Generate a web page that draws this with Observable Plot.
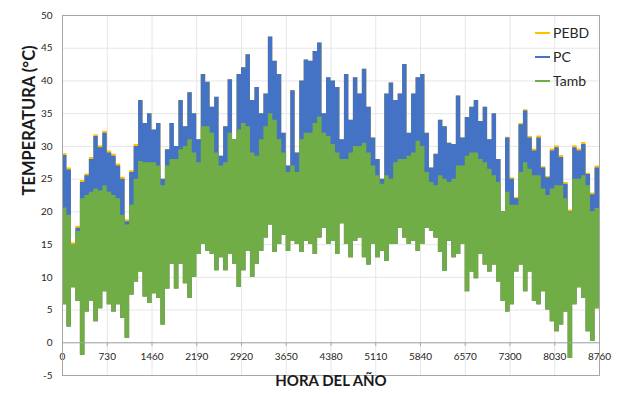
<!DOCTYPE html>
<html><head><meta charset="utf-8">
<script src="https://cdn.jsdelivr.net/npm/d3@7"></script>
<script src="https://cdn.jsdelivr.net/npm/@observablehq/plot@0.6"></script>
<style>
body{margin:0;background:#fff;}
#wrap{position:relative;width:618px;height:394px;font-family:Lato,"Open Sans",sans-serif;}
#legend{position:absolute;left:535px;top:21px;font-size:14px;color:#262626;line-height:24px;}
#legend div{display:flex;align-items:center;height:24px;}
#legend span.sw{display:inline-block;width:15px;height:2px;margin-right:3px;}
</style></head><body><div id="wrap"></div>
<script>
// Each value covers a 73-hour block of the year (120 blocks)
const blockHours = 73;
const pebdMax = [28.9,26.7,15.3,17.8,24.8,25.8,28.3,31.8,30.1,32.3,
  29.3,28.8,27.3,25.3,18.8,26.3,30.3,37,33.5,35,
  32.5,33.5,25,29.5,33.5,30,37,33,38.2,35,
  31,41,39.8,36,37.5,28.5,33,40.2,31,41,
  42,44,37,39,35,38,46.7,43,41,32,
  27,38.5,29,40,43.2,43,44.5,45.8,35,40.5,
  40,39,31,41,34,40.5,38,41.8,36,31.3,
  28,25,38,39.7,37,38,42.5,32,38,40.5,
  41,32,26.7,28.8,34,33,30.5,30.3,37.7,31.3,
  34.4,36,37,33.8,36,31,35,28,20,31.4,
  25.2,22.2,33.5,35.6,31.5,29.6,31.6,26.9,25.4,29.6,
  30.1,28.6,24.5,20.3,30.1,29.6,30.6,25.9,22.9,27.0];
const pcMax = [28.6,26.4,15,17.5,24.5,25.5,28,31.5,29.8,32,
  29,28.5,27,25,18.5,26,30,37,33.5,35,
  32.5,33.5,25,29.5,33.5,30,37,33,38.2,35,
  31,41,39.8,36,37.5,28.5,33,40.2,31,41,
  42,44,37,39,35,38,46.7,43,41,32,
  27,38.5,29,40,43.2,43,44.5,45.8,35,40.5,
  40,39,31,41,34,40.5,38,41.8,36,31.3,
  28,25,38,39.7,37,38,42.5,32,38,40.5,
  41,32,26.7,28.8,34,33,30.5,30.3,37.7,31.3,
  34.4,36,37,33.8,36,31,35,28,20,31.3,
  25,22,33.3,35.4,31.3,29.3,31.3,26.7,25.2,29.3,
  29.8,28.3,24.2,20,29.8,29.3,30.3,25.7,22.6,26.7];
const tambMax = [20.6,19.5,15,17,22,22.5,23,23.5,23.2,24,
  23,22.5,22,19.5,18,21,25,27.7,27.5,27.5,
  27.5,27,24,27,28,28,29.5,30,31,29,
  27.5,33,33,32,29,27,27.5,32,31,32.5,
  33.5,33,29,28.5,31,33,35,34,31,29,
  26,27,26,31,32,32,33.5,34.5,32,31.5,
  30.3,29,28,28,29,30,30,30.5,29,27,
  25.5,24.2,25.5,25,27.5,28,28,28.5,29,30.8,
  30,26,24.5,24,25.5,25,24.5,25,27,27,
  28.5,29,29,28,27.5,26.5,25.5,24.5,20,23,
  21,21,26,27.5,26.5,25.5,25.5,23.5,22.5,23.5,
  24,24,22,20,25,25,25.5,24,20,20.5];
const tambMin = [5.8,2.4,8.4,6.3,-1.9,4.7,6.3,3.2,5.2,7.8,
  5.8,4.7,5.8,3.7,0.7,7.3,9.3,10.8,7,6,
  7.5,6.8,2.7,8.2,12,8.2,12,9,6.8,10,
  13.5,15,14,13.5,11,13,11,13.5,12,8.5,
  11,14,10,12,14,16,18,13.8,15,16.4,
  14,15.5,15,13.8,15.5,15,13.5,16,17.5,15,
  15.5,13.5,18.2,15,13,15.5,16,13,11.9,15,
  13,14,12.4,15,15,17.5,16,15,15.5,14,
  15,17.5,17,16,13.8,10.9,15.5,13,13.5,15,
  7.8,10.8,9.8,13.5,11.9,10.8,11.9,9.3,6.3,4.7,
  5.8,10.8,11.9,7.8,10.8,6.3,5.8,7.8,5,3.2,
  1.7,2.7,4.7,-2.4,5.8,8.4,6.8,1.7,0.2,5.2];
const xTicks = [0,730,1460,2190,2920,3650,4380,5110,5840,6570,7300,8030,8760];
const yTicks = [-5,0,5,10,15,20,25,30,35,40,45,50];
const seriesNames = ["PEBD","PC","Tamb"];
const seriesColors = ["#FFC000","#4472C4","#70AD47"];

const rows = pcMax.map((_, i) => ({h: i * blockHours, lo: tambMin[i], pebd: pebdMax[i], pc: pcMax[i], tmax: tambMax[i]}));
rows.push({...rows[rows.length - 1], h: 8760});

const font = "Lato, 'Open Sans', sans-serif";
const chart = Plot.plot({
  width: 618, height: 394,
  marginLeft: 62, marginRight: 19, marginTop: 15, marginBottom: 19,
  x: {domain: [0, 8760], axis: null},
  y: {domain: [-5, 50], axis: null},
  style: {fontFamily: font, background: "#fff", overflow: "visible"},
  marks: [
    Plot.ruleX(xTicks, {x: d => d, stroke: "#e6e6e6"}),
    Plot.ruleY(yTicks, {y: d => d, stroke: "#e6e6e6"}),
    Plot.areaY(rows, {x: "h", y1: "lo", y2: "pebd", curve: "step-after", fill: seriesColors[0]}),
    Plot.areaY(rows, {x: "h", y1: "lo", y2: "pc", curve: "step-after", fill: seriesColors[1]}),
    Plot.areaY(rows, {x: "h", y1: "lo", y2: "tmax", curve: "step-after", fill: seriesColors[2]}),
    Plot.ruleY([0], {stroke: "#a6a6a6", strokeWidth: 1}),
    Plot.ruleX(xTicks, {x: d => d, y1: -0.55, y2: 0, stroke: "#a6a6a6"}),
    Plot.text(xTicks, {x: d => d, y: 0, dy: 14, text: d => String(d), fontSize: 10, fill: "#262626"}),
    Plot.text(yTicks, {y: d => d, frameAnchor: "left", dx: -10, textAnchor: "end", text: d => String(d), fontSize: 10, fill: "#262626"}),
    Plot.frame({stroke: "#a6a6a6"}),
    Plot.text(["TEMPERATURA (°C)"], {frameAnchor: "left", dx: -33, rotate: -90, fontSize: 16.5, fontWeight: "bold", fill: "#1a1a1a"}),
    Plot.text(["HORA DEL AÑO"], {frameAnchor: "bottom", dy: 10, fontSize: 15, fontWeight: "bold", fill: "#1a1a1a"})
  ]
});
const wrap = document.getElementById("wrap");
wrap.appendChild(chart);
const legend = document.createElement("div");
legend.id = "legend";
seriesNames.forEach((name, i) => {
  const row = document.createElement("div");
  const sw = document.createElement("span");
  sw.className = "sw";
  sw.style.background = seriesColors[i];
  row.appendChild(sw);
  row.appendChild(document.createTextNode(name));
  legend.appendChild(row);
});
wrap.appendChild(legend);
</script></body></html>
